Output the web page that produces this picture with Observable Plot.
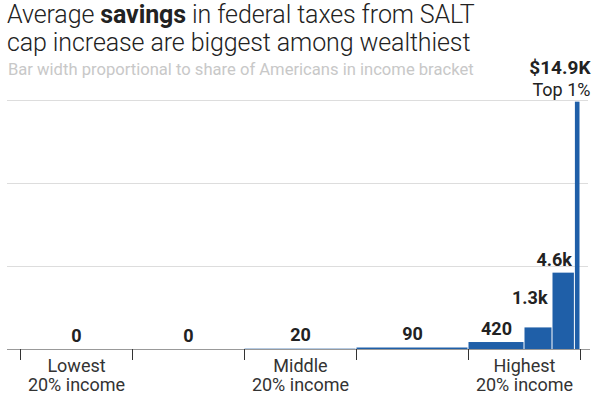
<!DOCTYPE html>
<html><head><meta charset="utf-8">
<script src="https://cdn.jsdelivr.net/npm/d3@7"></script>
<script src="https://cdn.jsdelivr.net/npm/@observablehq/plot@0.6"></script>
<style>
body{margin:0;background:#fff;font-family:Roboto, "Noto Sans", sans-serif;}
#wrap{position:relative;width:600px;height:399px;overflow:hidden}
#title{margin:0;padding:1px 0 0 7px;font-weight:300;font-size:25px;line-height:28px;color:#222;height:54px;letter-spacing:-0.1px}
#title b{font-weight:700}
#sub{position:absolute;left:8px;top:60px;font-size:16.6px;color:#c8c8c8;font-weight:400;z-index:2}
#chart{position:absolute;left:0;top:56px;z-index:1}
</style></head><body>
<div id="wrap">
<div id="title">Average <b>savings</b> in federal taxes from SALT<br>cap increase are biggest among wealthiest</div>
<div id="sub">Bar width proportional to share of Americans in income bracket</div>
<div id="chart"></div>
</div>
<script>
const brackets = ["Lowest 20%","Second 20%","Middle 20%","Fourth 20%","80–90%","90–95%","95–99%","Top 1%"];
const shares = [20,20,20,20,10,5,4,1];
const savings = [0,0,20,90,420,1300,4600,14900];
const valueLabels = ["0","0","20","90","420","1.3k","4.6k","$14.9K"];
const topLabel = "Top 1%";
const groupLabels = ["Lowest\n20% income","Middle\n20% income","Highest\n20% income"];
const groupQuintiles = [0,2,4];
const yTicks = [5000,10000,15000];
const xTicks = [0,20,40,60,80,100];

let acc = 0;
const data = brackets.map((b,i) => {
  const d = {bracket:b, x1:acc, x2:acc+shares[i], v:savings[i], label:valueLabels[i]};
  acc += shares[i];
  return d;
});
const groups = groupLabels.map((t,i) => ({text:t, x: groupQuintiles[i]*20 + 10}));
const blue = "#1f5fa8";

const chart = Plot.plot({
  width: 600,
  height: 343,
  marginTop: 44,
  marginBottom: 50,
  marginLeft: 20,
  marginRight: 20,
  style: {fontFamily: "Roboto, 'Noto Sans', sans-serif", background: "transparent"},
  x: {domain:[0,100], axis:null},
  y: {domain:[0,15000], axis:null},
  marks: [
    Plot.ruleY(yTicks, {stroke:"#ddd", insetLeft:-13, insetRight:-8}),
    Plot.rectY(data, {x1:"x1", x2:"x2", y:"v", fill:blue, insetLeft:0.5, insetRight:0.5}),
    Plot.ruleY([0], {stroke:"#999", insetLeft:-13, insetRight:-10}),
    Plot.ruleX(xTicks, {y1:0, y2:0, insetBottom:-11, stroke:"#333"}),
    Plot.text(data.slice(0,5), {x: d => (d.x1+d.x2)/2, y:"v", text:"label", lineAnchor:"bottom", dy:-8, fontWeight:700, fontSize:18, fill:"#222"}),
    Plot.text(data.slice(5,6), {x:"x2", y:"v", text:"label", textAnchor:"end", lineAnchor:"bottom", dx:-5, dy:-24, fontWeight:700, fontSize:18, fill:"#222"}),
    Plot.text(data.slice(6,7), {x:"x2", y:"v", text:"label", textAnchor:"end", lineAnchor:"bottom", dx:-3, dy:-7, fontWeight:700, fontSize:18, fill:"#222"}),
    Plot.text(data.slice(7), {x:"x2", y:"v", text:"label", textAnchor:"end", lineAnchor:"bottom", dx:10, dy:-28, fontWeight:700, fontSize:19, fill:"#222"}),
    Plot.text(data.slice(7), {x:"x2", y:"v", text:() => topLabel, textAnchor:"end", lineAnchor:"bottom", dx:10, dy:-6, fontSize:18, fill:"#222"}),
    Plot.text(groups, {x:"x", y: () => 0, text:"text", lineAnchor:"top", dy:9, fontSize:18, lineHeight:1.07, fill:"#333"})
  ]
});
document.getElementById("chart").appendChild(chart);
</script>
</body></html>
